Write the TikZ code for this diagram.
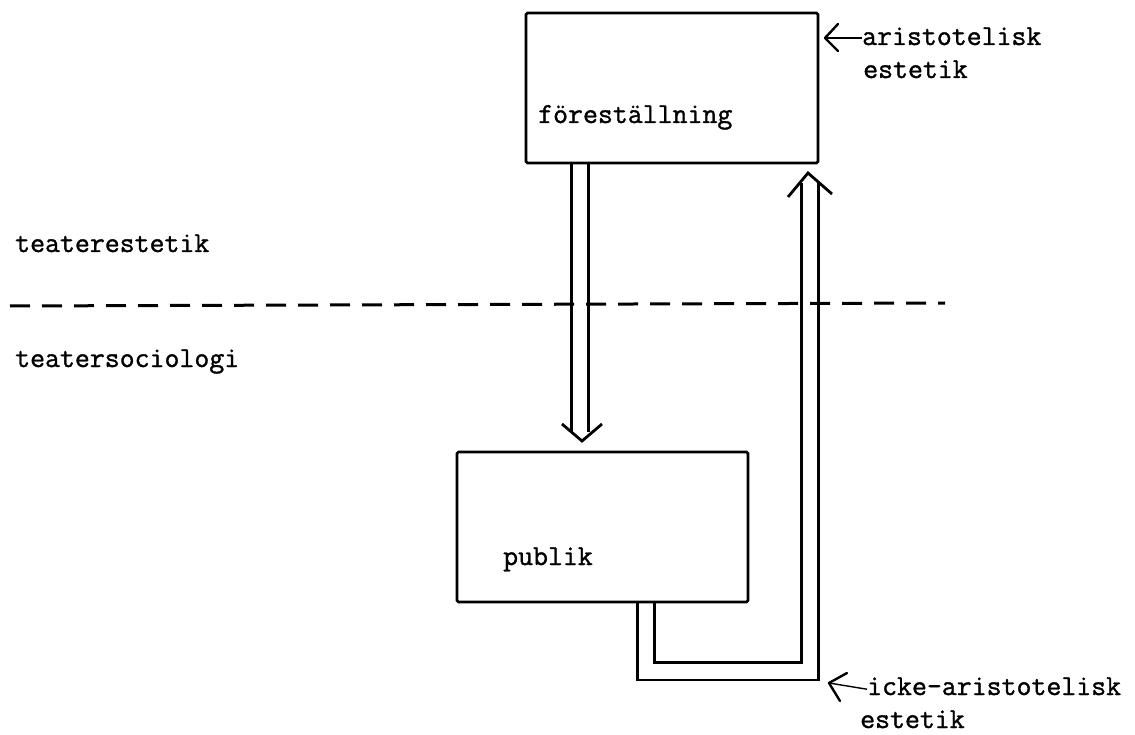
\documentclass[tikz,border=0pt]{standalone}
\usepackage{fontspec}
\newfontfamily\tw[FakeBold=1.2]{Latin Modern Mono}
\usetikzlibrary{backgrounds,calc}
\begin{document}
\begin{tikzpicture}[x=1pt,y=-1pt,line cap=butt,
  box/.style={draw,line width=2.6pt,rounded corners=1.5pt,inner sep=0pt},
  lbl/.style={anchor=base west,inner sep=0pt,font=\tw\fontsize{29}{34}\selectfont},
  dbl/.style={draw,line width=2.8pt,double=white,double distance=14.5pt},
  head/.style={draw,line width=2.8pt,line join=miter},
  ann/.style={draw,line width=1.4pt},
  annhead/.style={draw,line width=2.4pt,line join=round,line cap=round},
  sep/.style={draw,line width=3pt,dash pattern=on 20pt off 12pt}]
\useasboundingbox (0,0) rectangle (1135,735);
% boxes
\node[box,minimum width=292pt,minimum height=150pt] (fore) at (672,88) {};
\node[lbl] (foret) at (538,123) {föreställning};
\node[box,minimum width=291pt,minimum height=150pt] (publik) at (602.5,527) {};
\node[lbl] (publikt) at (503,565) {publik};
% side labels
\node[lbl] (estet) at (15,252) {teaterestetik};
\node[lbl] (socio) at (15,367) {teatersociologi};
\node[lbl] (aris1) at (862,45) {aristotelisk};
\node[lbl] (aris2) at (863,78) {estetik};
\node[lbl] (icke1) at (867,695) {icke-aristotelisk};
\node[lbl] (icke2) at (860,728) {estetik};
% double connectors
\coordinate (downend) at (580,432);
\coordinate (upend) at (810,183);
\begin{scope}[on background layer]
  \fill[white] (0,0) rectangle (1135,735);
  \draw[dbl] (fore.south -| downend) -- (downend);
  \draw[dbl] ([xshift=43.5pt]publik.south) -- ++(0,68) -| (upend);
\end{scope}
\draw[head] ($(downend)+(-18,-8)$) -- ($(downend)+(2,9)$) -- ($(downend)+(22,-8)$);
\draw[head] ($(upend)+(-22,14)$) -- ($(upend)+(-2,-10)$) -- ($(upend)+(22,11)$);
% dashed separator
\coordinate (sepL) at (10,306);
\coordinate (sepR) at (945,303);
\draw[sep] (sepL) -- (sepR);
% annotation arrows
\coordinate (atip) at (825,38);
\draw[ann] (aris1.west |- atip) -- (atip);
\draw[annhead] ($(atip)+(13,-14)$) -- (atip) -- ($(atip)+(13,13)$);
\coordinate (btip) at (829,683);
\draw[ann] ([yshift=-3pt]icke1.west) -- (btip);
\draw[annhead] ($(btip)+(18,-10)$) -- (btip) -- ($(btip)+(11,18)$);
\end{tikzpicture}
\end{document}
